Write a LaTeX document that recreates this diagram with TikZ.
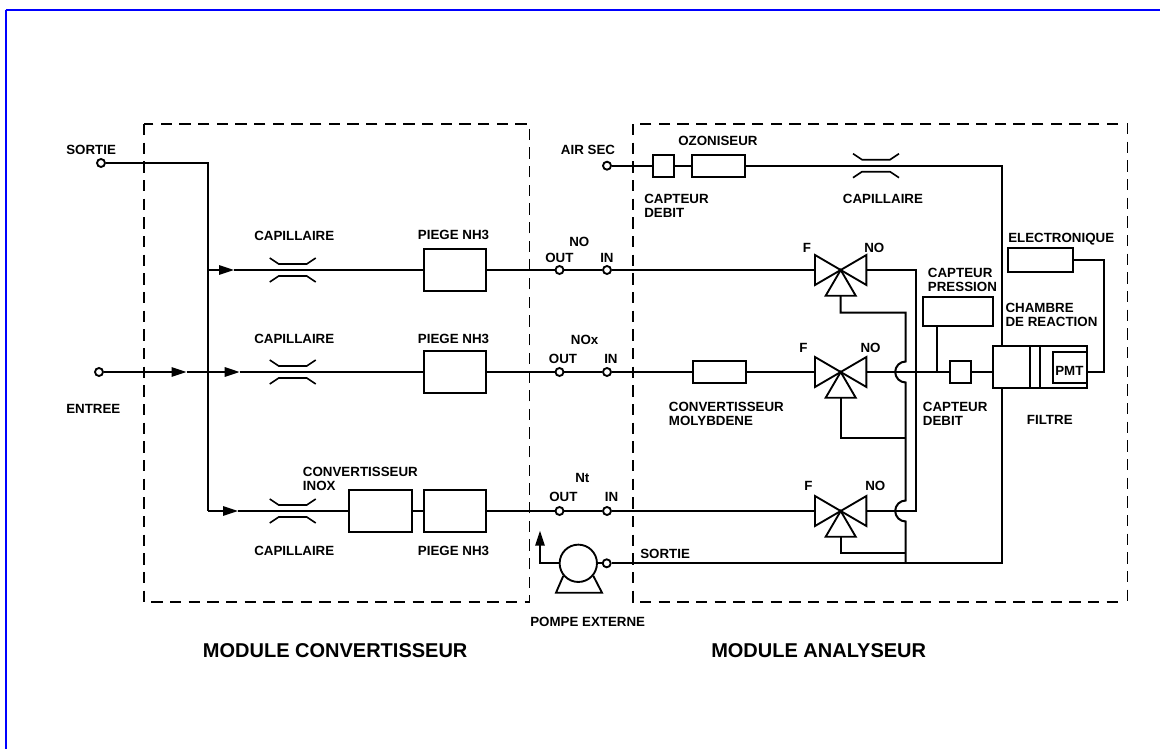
\documentclass[tikz,border=0pt]{standalone}
\usepackage{fontspec}
\setmainfont{Liberation Sans}
\usetikzlibrary{arrows.meta}

\begin{document}
\begin{tikzpicture}[
  x=0.75pt,
  y=-0.75pt,
  font=\bfseries\fontsize{10}{10.5}\selectfont,
  lbl/.style={anchor=west, inner sep=0pt, align=left},
  titre/.style={anchor=west, inner sep=0pt, font=\bfseries\fontsize{15}{17}\selectfont},
  conn/.style={line width=1.5pt, draw=black},
  flow/.style={conn, -{Triangle[length=11.25pt, width=7pt]}},
  boite/.style={draw=black, line width=1.4pt, inner sep=0pt, minimum width=#1},
  term/.style={circle, draw=black, fill=white, line width=1.4pt, inner sep=0pt, minimum size=6pt},
  module/.style={draw=black, line width=1.2pt, dash pattern=on 8.5pt off 5.5pt},
  capil/.pic={
    \draw[line width=1.2pt] (-23,-12) -- (-14,-6) -- (14,-6) -- (23,-12);
    \draw[line width=1.2pt] (-23,12) -- (-14,6) -- (14,6) -- (23,12);
  },
  valve/.pic={
    \draw[line width=1.4pt] (0,0) -- (-25.7,-15) -- (-25.7,15) -- cycle;
    \draw[line width=1.4pt] (0,0) -- (25.7,-15) -- (25.7,15) -- cycle;
    \draw[line width=1.4pt] (0,0) -- (-15,25.7) -- (15,25.7) -- cycle;
    \coordinate (-in) at (-25.7,0);
    \coordinate (-out) at (25.7,0);
    \coordinate (-cmd) at (0,25.7);
  }
]
\useasboundingbox (0,0) rectangle (1160,749);

\draw[blue, line width=2pt] (5.5,10) -- (1160,10);
\draw[blue, line width=1.5pt] (6.3,10) -- (6.3,749);

% modules
\draw[module] (144,124) rectangle (529.3,602);
\draw[module] (1118,124) -- (632.7,124) -- (632.7,602) -- (1118,602);
\draw[module] (1127.3,123) -- (1127.3,602.5);

% convertisseur
\node[term] (tSortie) at (101,163) {};
\node[term] (tEntree) at (99,372) {};
\coordinate (j1) at (208,270);
\coordinate (j2) at (208,372);
\coordinate (j3) at (208,511);
\coordinate (a1) at (234,270);
\coordinate (a2a) at (186.6,372);
\coordinate (a2b) at (239.7,372);
\coordinate (a3) at (238,511);

\node[boite=46.9pt, minimum height=31.2pt] (piege1) at (455,270) {};
\node[boite=46.9pt, minimum height=31pt] (piege2) at (455,372) {};
\node[boite=46.9pt, minimum height=31pt] (piege3) at (455,511) {};
\node[boite=46.9pt, minimum height=31pt] (inox) at (380.5,511) {};

\pic at (292.7,270) {capil};
\pic at (292.7,372) {capil};
\pic at (292.7,511) {capil};

\draw[conn] (tSortie) -| (j3);
\draw[flow] (j1) -- (a1);
\draw[conn] (a1) -- (piege1);
\draw[flow] (tEntree) -- (a2a);
\draw[flow] (a2a) -- (a2b);
\draw[conn] (a2b) -- (piege2);
\draw[flow] (j3) -- (a3);
\draw[conn] (a3) -- (inox);
\draw[conn] (inox) -- (piege3);

% liaisons entre modules
\node[term] (out1) at (559.5,270) {};
\node[term] (in1) at (607,270) {};
\node[term] (out2) at (559.5,372) {};
\node[term] (in2) at (607,372) {};
\node[term] (out3) at (559.5,511) {};
\node[term] (in3) at (607,511) {};
\draw[conn] (piege1) -- (out1);
\draw[conn] (out1) -- (in1);
\draw[conn] (piege2) -- (out2);
\draw[conn] (out2) -- (in2);
\draw[conn] (piege3) -- (out3);
\draw[conn] (out3) -- (in3);

% analyseur
\pic (v1) at (840.7,270) {valve};
\pic (v2) at (840.7,372) {valve};
\pic (v3) at (840.7,511) {valve};

\node[term] (tAir) at (607,165.7) {};
\node[boite=16.2pt, minimum height=16.5pt] (debit1) at (663.5,165.7) {};
\node[boite=40pt, minimum height=16.5pt] (ozo) at (718.5,165.7) {};
\pic at (876,165.7) {capil};
\coordinate (coude) at (1002.3,165.7);
\coordinate (bus) at (1002.3,563.3);

\node[boite=40pt, minimum height=17pt] (moly) at (719.3,372) {};
\node[boite=16pt, minimum height=16pt] (debit2) at (960.5,372) {};
\node[boite=52.5pt, minimum height=21.5pt] (press) at (957.7,311.7) {};
\node[boite=48.8pt, minimum height=17.5pt] (elec) at (1040.2,260) {};

\node[boite=27.5pt, minimum height=31.3pt] (cham) at (1011.7,366.9) {};
\node[boite=7.5pt, minimum height=31.3pt] (filtre) at (1035,366.9) {};
\node[boite=35pt, minimum height=31.3pt] (pm) at (1063.4,366.9) {};
\node[boite=25.5pt, minimum height=23.3pt] (pmt) at (1069.7,367.2) {};

\draw[conn] (tAir) -- (debit1);
\draw[conn] (debit1) -- (ozo);
\draw[conn] (ozo) -- (coude) -- (coude |- cham.north);

\draw[conn] (in1) -- (v1-in);
\draw[conn] (in2) -- (moly);
\draw[conn] (moly) -- (v2-in);
\draw[conn] (in3) -- (v3-in);

\coordinate (coll1) at (905.7,312.7);
\coordinate (coll2) at (915.7,270);
\coordinate (jP) at (937.3,372);
\coordinate (jA) at (905.7,438);
\coordinate (jB) at (905.7,553.3);
\coordinate (coudeH) at (1104,260);
\coordinate (coudeB) at (1104,371.7);

\draw[conn] (v1-cmd) |- (coll1) -- (905.7,361.5)
  arc[start angle=-90, end angle=-270, radius=10.5] -- (905.7,500.5)
  arc[start angle=-90, end angle=-270, radius=10.5] -- (905.7,563.3);
\draw[conn] (v2-cmd) |- (jA);
\draw[conn] (v3-cmd) |- (jB);
\draw[conn] (v1-out) -- (coll2) -- (coll2 |- v3-out) -- (v3-out);
\draw[conn] (v2-out) -- (debit2);
\draw[conn] (jP |- press.south) -- (jP);
\draw[conn] (debit2) -- (debit2 -| cham.west);
\draw[conn] (elec.east) -- (coudeH) -- (coudeB) -- (coudeB -| pm.east);

% pompe
\node[circle, draw=black, line width=1.4pt, inner sep=0pt, minimum size=28pt] (pompe) at (578.3,563.3) {};
\node[term] (tPompe) at (606.7,563.3) {};
\coordinate (fleche) at (540,530.7);
\draw[line width=1.4pt] (pompe.-140) -- (556,592.7) -- (602,592.7) -- (pompe.-40);
\draw[flow] (pompe.west) -| (fleche);
\draw[conn] (pompe) -- (tPompe);
\draw[conn] (tPompe) -- (bus) -- (bus |- cham.south);

% textes
\node[lbl] (lSortie) at (66,150) {SORTIE};
\node[lbl] (lEntree) at (66,409) {ENTREE};
\node[lbl] (lCap1) at (254,236) {CAPILLAIRE};
\node[lbl] (lCap2) at (254,339) {CAPILLAIRE};
\node[lbl] (lCap3) at (254,551) {CAPILLAIRE};
\node[lbl] (lPiege1) at (417.7,235) {PIEGE NH3};
\node[lbl] (lPiege2) at (417.7,339) {PIEGE NH3};
\node[lbl] (lPiege3) at (417.7,551) {PIEGE NH3};
\node[lbl] (lInox) at (302.7,479.3) {CONVERTISSEUR\\INOX};
\node[lbl] (lNo) at (569,241.7) {NO};
\node[lbl] (lOut1) at (545,258.3) {OUT};
\node[lbl] (lIn1) at (600,258.3) {IN};
\node[lbl] (lNox) at (570.7,340) {NOx};
\node[lbl] (lOut2) at (548.7,359.3) {OUT};
\node[lbl] (lIn2) at (604,359.3) {IN};
\node[lbl] (lNt) at (575,478.3) {Nt};
\node[lbl] (lOut3) at (549,497) {OUT};
\node[lbl] (lIn3) at (604.7,497) {IN};
\node[lbl] (lAir) at (560.7,150) {AIR SEC};
\node[lbl] (lOzo) at (678,141) {OZONISEUR};
\node[lbl] (lDebit1) at (644,206.3) {CAPTEUR\\DEBIT};
\node[lbl] (lCap4) at (842.7,199.3) {CAPILLAIRE};
\node[lbl] (lF1) at (802.7,248.3) {F};
\node[lbl] (lNo1) at (864,248.3) {NO};
\node[lbl] (lF2) at (799,348.3) {F};
\node[lbl] (lNo2) at (860.3,348.3) {NO};
\node[lbl] (lF3) at (804,486) {F};
\node[lbl] (lNo3) at (865,486) {NO};
\node[lbl] (lElec) at (1008,239) {ELECTRONIQUE};
\node[lbl] (lPress) at (927.7,279.5) {CAPTEUR\\PRESSION};
\node[lbl] (lCham) at (1005.3,315.3) {CHAMBRE\\DE REACTION};
\node[lbl] (lPmt) at (1055,371) {PMT};
\node[lbl] (lDebit2) at (922.7,414.2) {CAPTEUR\\DEBIT};
\node[lbl] (lFiltre) at (1026.7,420) {FILTRE};
\node[lbl] (lMoly) at (668.7,414.2) {CONVERTISSEUR\\MOLYBDENE};
\node[lbl] (lSortie2) at (640,554) {SORTIE};
\node[lbl] (lPompe) at (530,622.3) {POMPE EXTERNE};
\node[titre] (lModC) at (202.7,650.7) {MODULE CONVERTISSEUR};
\node[titre] (lModA) at (711,650.7) {MODULE ANALYSEUR};

\end{tikzpicture}
\end{document}
